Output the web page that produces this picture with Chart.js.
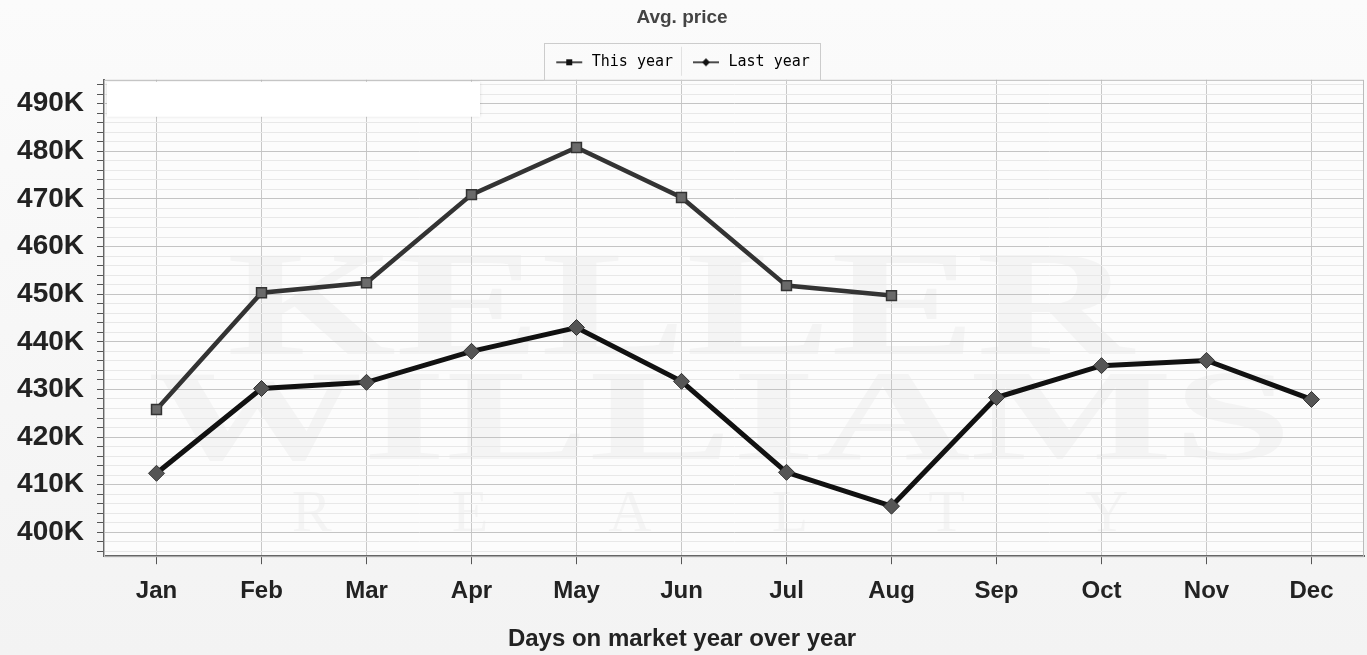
<!DOCTYPE html>
<html>
<head>
<meta charset="utf-8">
<script src="https://cdn.jsdelivr.net/npm/chart.js@4"></script>
<style>
  html, body { margin: 0; padding: 0; background: #f6f6f6; }
  #wrap { width: 1367px; height: 655px; position: relative;
          background: linear-gradient(#fbfbfb, #f3f3f3); }
</style>
</head>
<body>
<div id="wrap"><canvas id="chart" width="1367" height="655"></canvas></div>
<script>
// data
const months = ["Jan", "Feb", "Mar", "Apr", "May", "Jun", "Jul", "Aug", "Sep", "Oct", "Nov", "Dec"];
const thisYear = [425800, 450300, 452400, 470900, 480800, 470300, 451800, 449700, null, null, null, null];
const lastYear = [412400, 430200, 431500, 438000, 443000, 431700, 412600, 405500, 428300, 435000, 436100, 427900];
const yMin = 395000, yMax = 495000, yStep = 2000;

// little "line with marker" icons for the legend
function legendIcon(kind) {
  const c = document.createElement("canvas");
  c.width = 30; c.height = 10;
  const g = c.getContext("2d");
  g.strokeStyle = "#111"; g.lineWidth = 1.5;
  g.beginPath(); g.moveTo(2, 5); g.lineTo(28, 5); g.stroke();
  g.fillStyle = "#111";
  if (kind === "square") {
    g.fillRect(12, 2, 6, 6);
  } else {
    g.beginPath(); g.moveTo(15, 1); g.lineTo(19, 5); g.lineTo(15, 9); g.lineTo(11, 5); g.closePath(); g.fill();
  }
  return c;
}
const icons = [legendIcon("square"), legendIcon("diamond")];

// plot background, watermark, top-left blank box, legend frame
const decor = {
  id: "decor",
  beforeDraw(chart) {
    const { ctx, chartArea: a } = chart;
    ctx.save();
    ctx.fillStyle = "#fcfcfc";
    ctx.fillRect(a.left, a.top, a.right - a.left, a.bottom - a.top);
    ctx.fillStyle = "rgba(0,0,0,0.03)";
    ctx.textAlign = "center";
    ctx.textBaseline = "middle";
    ctx.save();
    ctx.translate(680, 315); ctx.scale(1.45, 1);
    ctx.font = "bold 150px 'Liberation Serif'";
    ctx.fillText("KELLER", 0, 0);
    ctx.restore();
    ctx.save();
    ctx.translate(720, 425); ctx.scale(1.65, 1);
    ctx.font = "bold 130px 'Liberation Serif'";
    ctx.fillText("WILLIAMS", 0, 0);
    ctx.restore();
    ctx.font = "60px 'Liberation Serif'";
    ctx.fillText("R        E        A        L        T        Y", 710, 515);
    ctx.restore();
  },
  afterDraw(chart) {
    const { ctx, chartArea: a, legend } = chart;
    ctx.save();
    ctx.strokeStyle = "#bbb";
    ctx.lineWidth = 1;
    ctx.strokeRect(a.left + 0.5, a.top + 0.5, a.right - a.left - 1, a.bottom - a.top);
    // blank box in the corner
    ctx.fillStyle = "#fff";
    ctx.shadowColor = "rgba(0,0,0,0.15)";
    ctx.shadowBlur = 3;
    ctx.fillRect(a.left + 3, a.top + 2, 373, 35);
    ctx.shadowBlur = 0;
    // legend frame
    const boxes = legend.legendHitBoxes;
    if (boxes && boxes.length) {
      const last = boxes[boxes.length - 1];
      const l = boxes[0].left - 10, r = last.left + last.width + 10;
      const t = boxes[0].top - 12, b = boxes[0].top + boxes[0].height + 10;
      ctx.strokeStyle = "#ccc";
      ctx.strokeRect(Math.round(l) + 0.5, Math.round(t) + 0.5, Math.round(r - l), Math.round(b - t));
      ctx.strokeStyle = "#e2e2e2";
      const sx = Math.round(boxes[1].left - 10) + 0.5;
      ctx.beginPath(); ctx.moveTo(sx, t + 4); ctx.lineTo(sx, b - 4); ctx.stroke();
    }
    ctx.restore();
  }
};

new Chart(document.getElementById("chart"), {
  type: "line",
  data: {
    labels: months,
    datasets: [
      {
        label: "This year",
        data: thisYear,
        borderColor: "#333",
        borderWidth: 4.5,
        pointStyle: "rect",
        pointRadius: 7,
        pointBackgroundColor: "#6a6a6a",
        pointBorderColor: "#333",
        pointBorderWidth: 1.5,
        tension: 0,
        spanGaps: false
      },
      {
        label: "Last year",
        data: lastYear,
        borderColor: "#111",
        borderWidth: 5,
        pointStyle: "rectRot",
        pointRadius: 8,
        pointBackgroundColor: "#555",
        pointBorderColor: "#333",
        pointBorderWidth: 1,
        tension: 0
      }
    ]
  },
  options: {
    responsive: false,
    animation: false,
    layout: { autoPadding: false, padding: { left: 0, right: 3, top: 0, bottom: 0 } },
    plugins: {
      title: {
        display: true,
        text: "Avg. price",
        color: "#444",
        font: { family: "'Liberation Sans', Arial", size: 19, weight: "bold" },
        padding: { top: 6, bottom: 8 }
      },
      // x axis caption, centred on the whole canvas like the original
      subtitle: {
        display: true,
        position: "bottom",
        text: "Days on market year over year",
        color: "#222",
        font: { family: "'Liberation Sans', Arial", size: 24, weight: "bold" },
        padding: { top: 3, bottom: 1 }
      },
      legend: {
        display: true,
        labels: {
          usePointStyle: true,
          pointStyleWidth: 30,
          color: "#222",
          font: { family: "'DejaVu Sans Mono', monospace", size: 15 },
          padding: 18,
          generateLabels(chart) {
            return chart.data.datasets.map((ds, i) => ({
              text: ds.label,
              pointStyle: icons[i],
              fillStyle: "#111",
              strokeStyle: "#111",
              lineWidth: 0,
              hidden: false,
              datasetIndex: i
            }));
          }
        }
      },
      tooltip: { enabled: false }
    },
    scales: {
      x: {
        offset: true,
        grid: {
          offset: false,
          color: "#c8c8c8",
          tickColor: "#555",
          tickLength: 8,
          drawOnChartArea: true
        },
        border: { color: "#666", width: 2 },
        ticks: {
          color: "#222",
          padding: 13,
          font: { family: "'Liberation Sans', Arial", size: 24, weight: "bold" }
        },
        afterFit(scale) { scale.height = 66; }
      },
      y: {
        min: yMin,
        max: yMax,
        afterBuildTicks(scale) {
          const t = [];
          for (let v = Math.ceil(yMin / yStep) * yStep; v <= yMax; v += yStep) t.push({ value: v });
          scale.ticks = t;
        },
        grid: {
          color: (c) => (c.tick && c.tick.value % 10000 === 0) ? "#c4c4c4" : "#e8e8e8",
          tickColor: "#555",
          tickLength: 7
        },
        border: { color: "#666", width: 2 },
        ticks: {
          color: "#222",
          padding: 13,
          autoSkip: false,
          font: { family: "'Liberation Sans', Arial", size: 28, weight: "bold" },
          callback: (v) => (v % 10000 === 0) ? (v / 1000) + "K" : ""
        },
        afterFit(scale) { scale.width = 104; }
      }
    }
  },
  plugins: [decor]
});
</script>
</body>
</html>
